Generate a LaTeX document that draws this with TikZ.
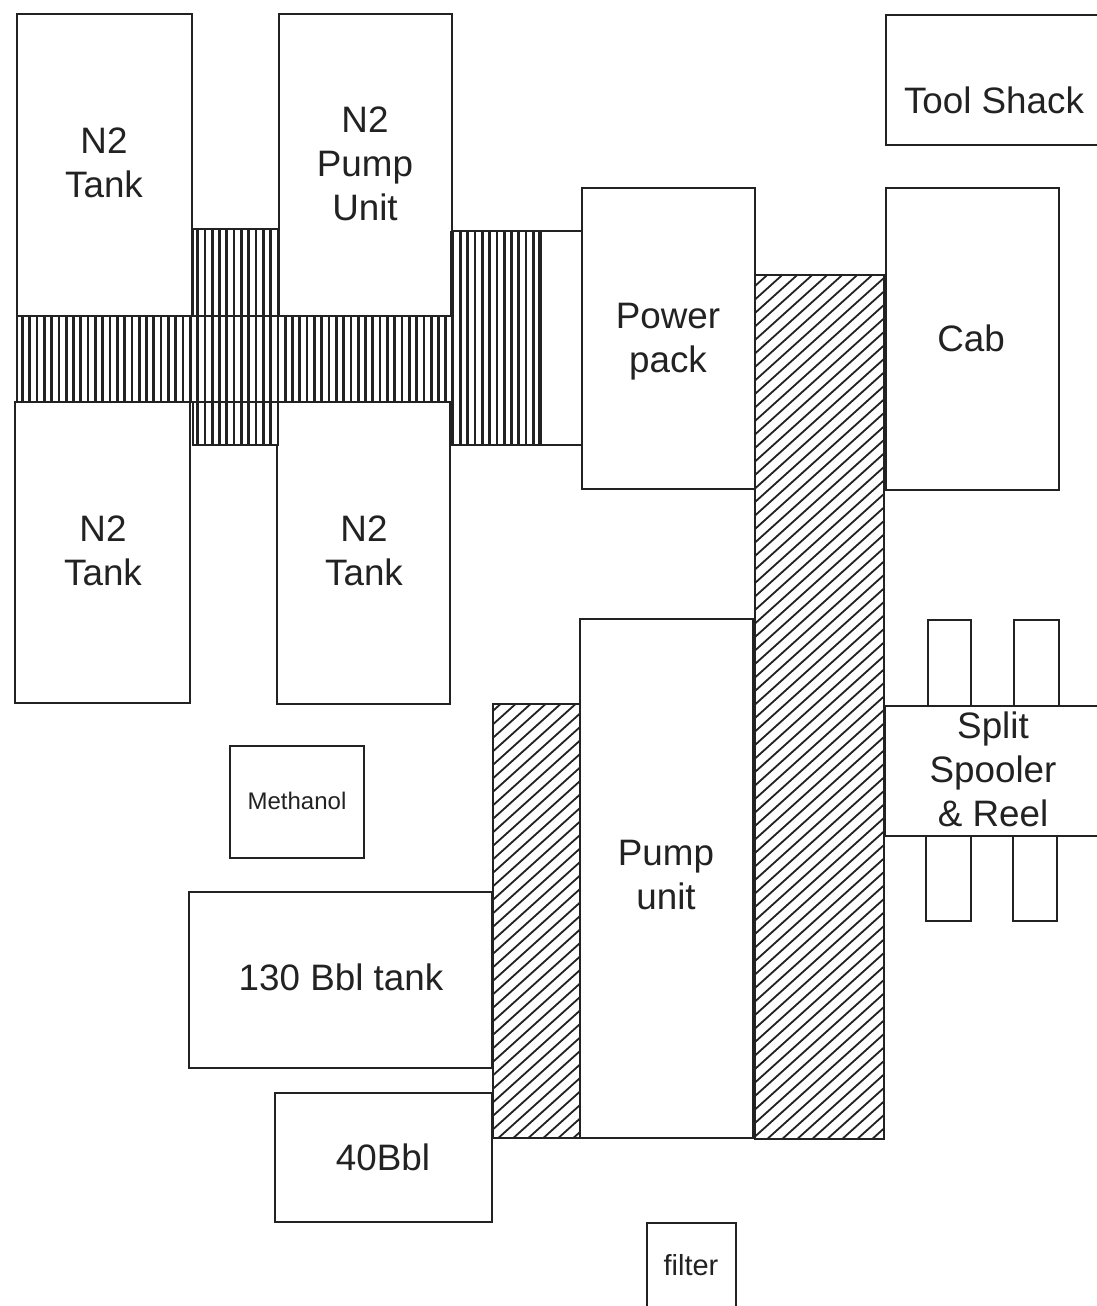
\documentclass[tikz,border=0pt]{standalone}
\usepackage{fontspec}
\setmainfont{Liberation Sans}
\definecolor{ink}{HTML}{222222}
\tikzset{
  boxst/.style={draw=ink,line width=1.9pt,fill=white,inner sep=0pt,outer sep=0pt,anchor=north west},
  hatchbox/.style={draw=ink,line width=1.9pt,fill=none,inner sep=0pt,outer sep=0pt,anchor=north west},
  big/.style={text=ink,font=\fontsize{36.8}{44}\selectfont,align=center,inner sep=0pt},
  small/.style={text=ink,font=\fontsize{24}{28}\selectfont,align=center,inner sep=0pt},
  mid/.style={text=ink,font=\fontsize{29}{34}\selectfont,align=center,inner sep=0pt},
  vline/.style={draw=ink,line width=2.7pt},
  dline/.style={draw=ink,line width=1.8pt},
  heavy/.style={draw=ink,line width=3.5pt}
}
% name, x0, y0, x1, y1, style
\newcommand{\bxx}[6]{%
  \pgfmathsetmacro{\bw}{#4-#2}\pgfmathsetmacro{\bh}{#5-#3}%
  \node[#6,minimum width=\bw pt,minimum height=\bh pt] (#1) at (#2,#3) {};}
% vertical hatch
\newcommand{\verthatch}[4]{%
  \begin{scope}\clip (#1,#2) rectangle (#3,#4);
  \foreach \hi in {0,1,...,150}{\pgfmathsetmacro{\hx}{0.5+\hi*7.3}\draw[vline] (\hx,#2) -- (\hx,#4);}
  \end{scope}}
% diagonal hatch
\newcommand{\diaghatch}[4]{%
  \begin{scope}\clip (#1,#2) rectangle (#3,#4);
  \foreach \hi in {0,1,...,95}{\pgfmathsetmacro{\hs}{-490+\hi*15}\draw[dline] (\hs,1150) -- (\hs+1000,250);}
  \end{scope}}
\begin{document}
\begin{tikzpicture}[x=1pt,y=-1pt]
\path[clip] (0,0) rectangle (1097,1306);
\fill[white] (0,0) rectangle (1097,1306);
% white link behind the hatch
\bxx{link}{452}{231}{582}{445}{boxst}
% boxes
\bxx{tankA}{17}{14}{192}{402}{boxst}
\bxx{pumpN}{279}{14}{452}{402}{boxst}
\bxx{tankB}{15}{402}{190}{703}{boxst}
\bxx{tankC}{277}{402}{450}{704}{boxst}
% hatch
\fill[white] (193,229) rectangle (278,445);
\verthatch{193}{229}{278}{445}
\bxx{hA}{193}{229}{278}{445}{hatchbox}
\fill[white] (452,231) rectangle (540,445);
\verthatch{452}{231}{540}{445}
\bxx{hC}{452}{231}{540}{445}{hatchbox}
\draw[heavy] (hC.north west) -- (hC.south west);
\draw[heavy] (hC.north east) -- (hC.south east);
\fill[white] (17,316) rectangle (452,402);
\verthatch{17}{316}{452}{402}
\bxx{hB}{17}{316}{452}{402}{hatchbox}
\fill[white] (755,275) rectangle (884,1139);
\diaghatch{755}{275}{884}{1139}
\bxx{hD}{755}{275}{884}{1139}{hatchbox}
\fill[white] (493,704) rectangle (580,1138);
\diaghatch{493}{704}{580}{1138}
\bxx{hE}{493}{704}{580}{1138}{hatchbox}
% other boxes
\bxx{power}{582}{188}{755}{489}{boxst}
\bxx{cab}{886}{188}{1059}{490}{boxst}
\bxx{tool}{886}{15}{1104}{145}{boxst}
\bxx{pump}{580}{619}{753}{1138}{boxst}
\bxx{lugA}{928}{620}{971}{706}{boxst}
\bxx{lugB}{1014}{620}{1059}{706}{boxst}
\bxx{lugC}{926}{836}{971}{921}{boxst}
\bxx{lugD}{1013}{836}{1057}{921}{boxst}
\bxx{spool}{885}{706}{1104}{836}{boxst}
\bxx{meth}{230}{746}{364}{858}{boxst}
\bxx{bbl}{189}{892}{492}{1068}{boxst}
\bxx{forty}{275}{1093}{492}{1222}{boxst}
\bxx{filt}{647}{1223}{736}{1316}{boxst}
% labels
\node[big] (t1) at (104,163) {N2\\Tank};
\node[big] (t2) at (365,164) {N2\\Pump\\Unit};
\node[big] (t3) at (103,551) {N2\\Tank};
\node[big] (t4) at (364,551) {N2\\Tank};
\node[big] (t5) at (668,342) {Power\\pack};
\node[big] (t6) at (971,338) {Cab};
\node[big] (t7) at (994,100) {Tool Shack};
\node[big] (t8) at (666,875) {Pump\\unit};
\node[big] (t9) at (993,769) {Split\\Spooler\\\& Reel};
\node[small] (t10) at (297,801) {Methanol};
\node[big] (t11) at (341,977) {130 Bbl tank};
\node[big] (t12) at (383,1157) {40Bbl};
\node[mid] (t13) at (691,1265) {filter};
\end{tikzpicture}
\end{document}
